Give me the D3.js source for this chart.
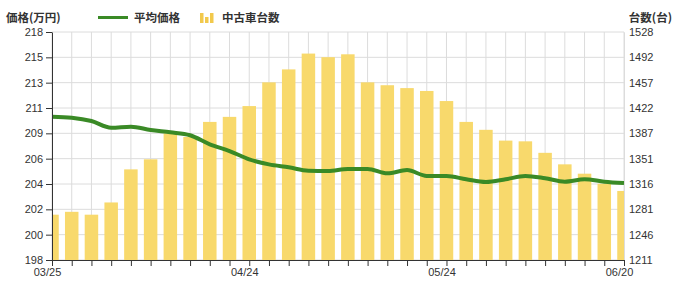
<!DOCTYPE html>
<html>
<head>
<meta charset="utf-8">
<script src="https://cdn.jsdelivr.net/npm/d3@7"></script>
<style>
  body { margin: 0; background: #fff; }
  text { font-family: "Liberation Sans", Arial, sans-serif; }
  .jp { font-family: "Noto Sans CJK JP", sans-serif; font-weight: bold; fill: #333; }
</style>
</head>
<body>
<div id="chart"></div>
<script>
// dates every 3 days, 03/25 .. 06/20
const dates = ["03/25","03/28","03/31","04/03","04/06","04/09","04/12","04/15","04/18","04/21",
               "04/24","04/27","04/30","05/03","05/06","05/09","05/12","05/15","05/18","05/21",
               "05/24","05/27","05/30","06/02","06/05","06/08","06/11","06/14","06/17","06/20"];
const shownDates = ["03/25","04/24","05/24","06/20"];

// 中古車台数 (bars, right axis)
const counts = [1274,1278,1274,1291,1337,1351,1387,1382,1403,1410,
                1425,1458,1476,1498,1493,1497,1458,1454,1450,1446,
                1432,1403,1392,1377,1376,1360,1344,1331,1317,1307];

// 平均価格 (line, left axis)
const prices = [210.57,210.48,210.19,209.60,209.69,209.40,209.20,208.94,208.15,207.56,
                206.83,206.39,206.13,205.83,205.81,205.98,205.98,205.60,205.89,205.37,
                205.37,205.08,204.84,205.08,205.37,205.17,204.87,205.08,204.87,204.75];

const leftLabels = ["198","200","202","204","206","209","211","213","215","218"];
const rightLabels = ["1211","1246","1281","1316","1351","1387","1422","1457","1492","1528"];

const W = 680, H = 288;
const margin = { top: 32, right: 56, bottom: 28, left: 52 };
const width = W - margin.left - margin.right,
      height = H - margin.top - margin.bottom;

const svg = d3.select("#chart").append("svg")
    .attr("width", W).attr("height", H);
const g = svg.append("g")
    .attr("transform", `translate(${margin.left},${margin.top})`);

const xScale = d3.scalePoint().domain(dates).range([0, width]);
const yLeft = d3.scaleLinear().domain([198, 218]).range([height, 0]);
const yRight = d3.scaleLinear().domain([1211, 1528]).range([height, 0]);

const nTicks = leftLabels.length - 1;
const leftTicks = d3.range(nTicks + 1).map(i => 198 + i * (218 - 198) / nTicks);
const rightTicks = d3.range(nTicks + 1).map(i => 1211 + i * (1528 - 1211) / nTicks);

// grid
g.append("g").selectAll("line").data(leftTicks).enter().append("line")
    .attr("x1", 0).attr("x2", width)
    .attr("y1", d => yLeft(d)).attr("y2", d => yLeft(d))
    .attr("stroke", "#dcdcdc");
g.append("g").selectAll("line").data(dates).enter().append("line")
    .attr("x1", d => xScale(d)).attr("x2", d => xScale(d))
    .attr("y1", 0).attr("y2", height)
    .attr("stroke", "#dcdcdc");

// bars
svg.append("defs").append("clipPath").attr("id", "clip")
    .append("rect").attr("width", width).attr("height", height);

const barW = 13.5;
g.append("g").attr("clip-path", "url(#clip)")
    .selectAll("rect").data(counts).enter().append("rect")
    .attr("x", (d, i) => xScale(dates[i]) - barW / 2)
    .attr("y", d => yRight(d))
    .attr("width", barW)
    .attr("height", d => height - yRight(d))
    .attr("fill", "#f8d96c");

// line
const line = d3.line()
    .x((d, i) => xScale(dates[i]))
    .y(d => yLeft(d))
    .curve(d3.curveMonotoneX);
g.append("path").datum(prices)
    .attr("d", line)
    .attr("fill", "none")
    .attr("stroke", "#3a8a26")
    .attr("stroke-width", 4)
    .attr("stroke-linejoin", "round");

// axes
const leftAxis = g.append("g")
    .call(d3.axisLeft(yLeft).tickValues(leftTicks).tickSize(6).tickSizeOuter(0)
        .tickFormat((d, i) => leftLabels[i]));
const rightAxis = g.append("g")
    .attr("transform", `translate(${width},0)`)
    .call(d3.axisRight(yRight).tickValues(rightTicks).tickSize(0).tickPadding(5).tickSizeOuter(0)
        .tickFormat((d, i) => rightLabels[i]));
rightAxis.select(".domain").attr("stroke", "#dcdcdc");
const bottomAxis = g.append("g")
    .attr("transform", `translate(0,${height})`)
    .call(d3.axisBottom(xScale).tickSize(6).tickSizeOuter(0)
        .tickFormat(d => shownDates.includes(d) ? d : ""));
bottomAxis.selectAll(".tick text").attr("dx", -5).attr("dy", "0.6em");

[leftAxis, rightAxis, bottomAxis].forEach(a => {
    a.selectAll("text").attr("font-size", 11).attr("fill", "#333")
        .attr("font-family", "'Liberation Sans', Arial, sans-serif");
});
leftAxis.select(".domain").attr("stroke", "#333");
leftAxis.selectAll(".tick line").attr("stroke", "#333");
bottomAxis.select(".domain").attr("stroke", "#333");
bottomAxis.selectAll(".tick line").attr("stroke", "#333");

// titles and legend
svg.append("text").attr("class", "jp").attr("x", 6).attr("y", 22)
    .attr("font-size", 11.5).text("価格(万円)");
svg.append("text").attr("class", "jp").attr("x", 672).attr("y", 22)
    .attr("text-anchor", "end").attr("font-size", 11.5).text("台数(台)");

svg.append("line").attr("x1", 98).attr("x2", 128).attr("y1", 17.5).attr("y2", 17.5)
    .attr("stroke", "#3a8a26").attr("stroke-width", 3);
svg.append("text").attr("class", "jp").attr("x", 134).attr("y", 22)
    .attr("font-size", 11.5).text("平均価格");

const icon = [[200, 10], [205, 6], [210, 10]];
svg.append("g").selectAll("rect").data(icon).enter().append("rect")
    .attr("x", d => d[0]).attr("y", d => 23 - d[1])
    .attr("width", 3.5).attr("height", d => d[1])
    .attr("fill", "#f2c94c");
svg.append("text").attr("class", "jp").attr("x", 222).attr("y", 22)
    .attr("font-size", 11.5).text("中古車台数");
</script>
</body>
</html>
